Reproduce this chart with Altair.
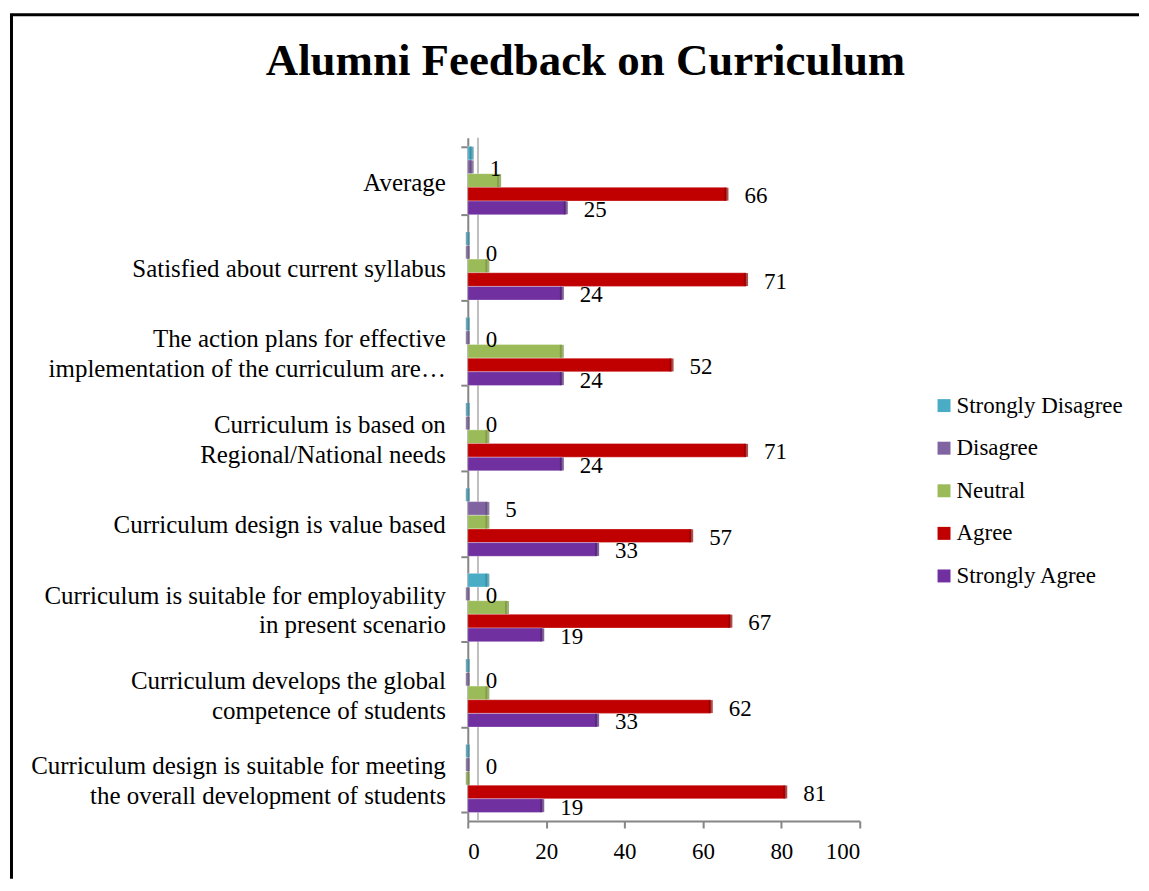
import altair as alt
import pandas as pd

categories = [
    "Average",
    "Satisfied about current syllabus",
    "The action plans for effective|implementation of the curriculum are…",
    "Curriculum is based on|Regional/National needs",
    "Curriculum design is value based",
    "Curriculum is suitable for employability|in present scenario",
    "Curriculum develops the global|competence of students",
    "Curriculum design is suitable for meeting|the overall development of students",
]
series = ["Strongly Disagree", "Disagree", "Neutral", "Agree", "Strongly Agree"]
strongly_disagree = [1, 0, 0, 0, 0, 5, 0, 0]
disagree = [1, 0, 0, 0, 5, 0, 0, 0]
neutral = [8, 5, 24, 5, 5, 10, 5, 0]
agree = [66, 71, 52, 71, 57, 67, 62, 81]
strongly_agree = [25, 24, 24, 24, 33, 19, 33, 19]
labeled_series = ["Disagree", "Agree", "Strongly Agree"]
x_ticks = [0, 20, 40, 60, 80, 100]
title_text = "Alumni Feedback on Curriculum"

colors = ["#4BACC6", "#8064A2", "#9BBB59", "#C00000", "#7030A0"]
dark_colors = ["#31859C", "#5F497A", "#76923C", "#8B0000", "#4B1E6E"]

values_by_series = [strongly_disagree, disagree, neutral, agree, strongly_agree]
rows = []
for ci, cat in enumerate(categories):
    for si, s in enumerate(series):
        rows.append({"category": cat, "series": s, "value": values_by_series[si][ci]})
df = pd.DataFrame(rows)
cat_df = pd.DataFrame({"category": categories})

FONT = "Liberation Serif"
AXIS_GRAY = "#868686"
W, H = 393, 685

y_axis = alt.Axis(
    title=None,
    labels=False,
    tickBand="extent",
    tickSize=7,
    tickWidth=2,
    tickColor=AXIS_GRAY,
    domainColor=AXIS_GRAY,
    domainWidth=2,
)
x_axis = alt.Axis(
    values=x_ticks,
    title=None,
    grid=False,
    format="d",
    labelFont=FONT,
    labelFontSize=23,
    labelColor="black",
    labelPadding=13,
    tickSize=7,
    tickWidth=2,
    tickColor=AXIS_GRAY,
    domainColor=AXIS_GRAY,
    domainWidth=2,
)

y_enc = alt.Y(
    "category:N",
    sort=categories,
    scale=alt.Scale(domain=categories, paddingInner=0.2, paddingOuter=0.1),
    axis=y_axis,
)
yoff = alt.YOffset("series:N", sort=series,
                   scale=alt.Scale(domain=series, paddingInner=0, paddingOuter=0))
x_enc = alt.X("value:Q", scale=alt.Scale(domain=[0, 100], nice=False), axis=x_axis)

base = alt.Chart(df)

wall = alt.Chart(pd.DataFrame({"w": [0]})).mark_rule(color="#BFBFBF", strokeWidth=2).encode(
    x=alt.datum(2.6)
)

bars = base.mark_bar(stroke="white", strokeWidth=0.5, strokeOpacity=0.6).encode(
    x=x_enc,
    y=y_enc,
    yOffset=yoff,
    color=alt.Color(
        "series:N",
        sort=series,
        scale=alt.Scale(domain=series, range=colors),
        legend=alt.Legend(
            orient="none",
            legendX=466,
            legendY=257,
            title=None,
            labelFont=FONT,
            labelFontSize=23,
            labelColor="black",
            labelLimit=400,
            symbolType="square",
            symbolSize=169,
            symbolStrokeWidth=0,
            rowPadding=18.7,
            labelOffset=1,
            padding=0,
        ),
    ),
)

caps = base.mark_tick(thickness=4, size=13).encode(
    x=x_enc,
    y=y_enc,
    yOffset=yoff,
    color=alt.Color("series:N", scale=alt.Scale(domain=series, range=dark_colors), legend=None),
)

labels = base.transform_filter(
    alt.FieldOneOfPredicate(field="series", oneOf=labeled_series)
).mark_text(align="left", baseline="middle", dx=18, dy=2, font=FONT, fontSize=23, color="black").encode(
    x=x_enc,
    y=y_enc,
    yOffset=yoff,
    text=alt.Text("value:Q", format="d"),
)

cat_single = alt.Chart(cat_df).transform_filter(
    "indexof(datum.category, '|') < 0"
).mark_text(align="right", baseline="middle", dy=3, font=FONT, fontSize=25, color="black").encode(
    y=y_enc, x=alt.value(-22), text="category:N"
)
cat_multi = alt.Chart(cat_df).transform_filter(
    "indexof(datum.category, '|') >= 0"
).mark_text(align="right", baseline="middle", dy=-12, font=FONT, fontSize=25, color="black",
            lineBreak="|", lineHeight=30).encode(
    y=y_enc, x=alt.value(-22), text="category:N"
)

title = alt.Chart(pd.DataFrame({"t": [title_text]})).mark_text(
    font=FONT, fontSize=45, fontWeight="bold", align="center", baseline="alphabetic", color="black"
).encode(text="t:N", x=alt.value(118), y=alt.value(-63))

frame_left = alt.Chart(pd.DataFrame({"f": [0]})).mark_rule(color="black", strokeWidth=3).encode(
    x=alt.value(-457.5), y=alt.value(-123.5), y2=alt.value(743)
)
frame_top = alt.Chart(pd.DataFrame({"f": [0]})).mark_rule(color="black", strokeWidth=3).encode(
    x=alt.value(-459), x2=alt.value(673), y=alt.value(-123.5)
)

chart = alt.layer(
    wall, bars, caps, labels, cat_single, cat_multi, title, frame_left, frame_top
).resolve_scale(
    color="independent"
).properties(
    width=W,
    height=H,
    padding={"left": 0, "top": 4, "right": 0, "bottom": 0},
    background="white",
).configure_view(stroke=None).configure_axis(
    labelFont=FONT
).configure_legend(labelFont=FONT, labelLimit=400).configure_text(font=FONT)

chart.save("out.html", embed_options={"renderer": "svg", "actions": False})
